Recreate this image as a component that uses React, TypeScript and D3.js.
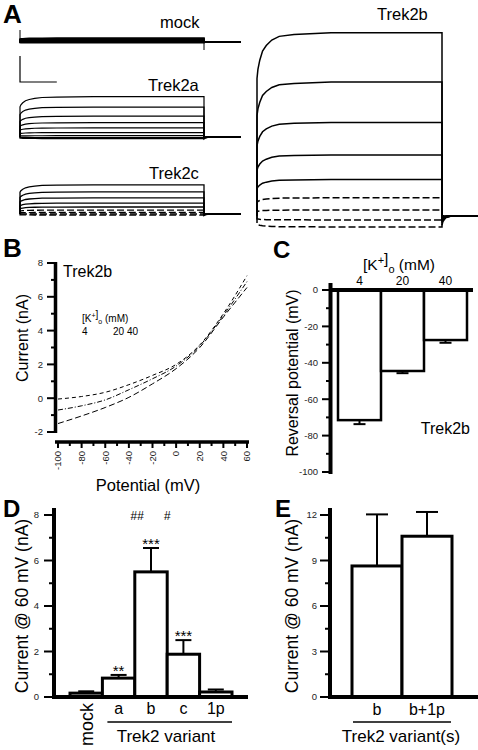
import React from "react";
import * as d3 from "d3";

// ---------- Panel A: voltage-step current traces (steady-state level, nA) ----------
const stepVoltages = [60, 40, 20, 0, -20, -40, -60, -80, -100];
const mockLevels = [0.15, 0.12, 0.09, 0.07, 0.05, 0.03, 0.01, -0.01, -0.03];
const trek2aLevels = [1.55, 1.15, 0.8, 0.55, 0.35, 0.17, 0.05, -0.02, -0.06];
const trek2cLevels = [1.12, 0.85, 0.62, 0.42, 0.27, 0.15, 0.06, 0.0, -0.04];
const trek2bLevels = [7.05, 5.15, 3.6, 2.35, 1.4, 0.7, 0.23, -0.15, -0.42];
// activation time course (ms -> fraction of steady state)
const actTimes = [0, 5, 15, 30, 50, 80, 120, 200, 400, 1000];
const actFrac = [0.75, 0.8, 0.85, 0.9, 0.93, 0.96, 0.98, 0.99, 1, 1];
const tailTimes = [1000, 1005, 1020, 1050, 1200];
const tailFrac = [-0.05, -0.03, -0.01, 0, 0];
const scaleBarNA = 1;
const scaleBarMs = 200;

// ---------- Panel B: I-V curves of Trek2b at three [K+]o ----------
const ivVoltages = [-100, -80, -60, -40, -20, 0, 20, 40, 60];
const iv4 = [-0.05, 0.1, 0.35, 0.8, 1.35, 2.0, 3.15, 5.0, 7.25];
const iv20 = [-0.7, -0.45, -0.1, 0.5, 1.15, 1.9, 3.1, 4.9, 6.9];
const iv40 = [-1.5, -1.05, -0.55, 0.05, 0.85, 1.75, 3.0, 4.8, 6.55];
const ivYTicks = [-2, 0, 2, 4, 6, 8];
const ivXTicks = [-100, -80, -60, -40, -20, 0, 20, 40, 60];

// ---------- Panel C: reversal potential ----------
const kConc = ["4", "20", "40"];
const revMean = [-71.5, -44.5, -27.5];
const revSem = [2.2, 1.2, 1.5];
const revTicks = [0, -20, -40, -60, -80, -100];

// ---------- Panel D: current at 60 mV per variant ----------
const variants = ["mock", "a", "b", "c", "1p"];
const curMean = [0.17, 0.83, 5.5, 1.88, 0.22];
const curSem = [0.08, 0.14, 1.05, 0.62, 0.11];
const curStars = ["", "**", "***", "***", ""];
const curTicks = [0, 2, 4, 6, 8];

// ---------- Panel E ----------
const combos = ["b", "b+1p"];
const comboMean = [8.64, 10.6];
const comboSem = [3.4, 1.6];
const comboTicks = [0, 3, 6, 9, 12];

const FONT = "Arial, 'Liberation Sans', Helvetica, sans-serif";

function tracePoints(level: number): [number, number][] {
  const pts: [number, number][] = [[0, 0]];
  actTimes.forEach((t, i) => pts.push([t, level * actFrac[i]]));
  tailTimes.forEach((t, i) => pts.push([t, level * tailFrac[i]]));
  return pts;
}

function Traces({ levels, x, zero, dashedFrom, width }: any) {
  const y = d3.scaleLinear().domain([0, 1]).range([zero, zero - 26]);
  const line = d3
    .line<[number, number]>()
    .x((d) => x(d[0]))
    .y((d) => y(d[1]));
  return (
    <g>
      {levels.map((lv: number, i: number) => (
        <path
          key={i}
          d={line(tracePoints(lv)) || ""}
          fill="none"
          stroke="#000"
          strokeWidth={width}
          strokeDasharray={i >= dashedFrom ? "7,3" : undefined}
        />
      ))}
    </g>
  );
}

export default function App() {
  const xL = d3.scaleLinear().domain([0, 1000]).range([20, 204]);
  const xR = d3.scaleLinear().domain([0, 1000]).range([257, 442]);
  const yBar = d3.scaleLinear().domain([0, 1]).range([82, 82 - 26]);

  // Panel B scales
  const xB = d3.scaleLinear().domain([-100, 60]).range([58, 247]);
  const yB = d3.scaleLinear().domain([-2, 8]).range([432, 263]);
  const ivLine = d3
    .line<number>()
    .x((_, i) => xB(ivVoltages[i]))
    .y((d) => yB(d))
    .curve(d3.curveMonotoneX);

  // Panel C
  const xC = d3.scaleBand<string>().domain(kConc).range([338, 467]).padding(0);
  const yC = d3.scaleLinear().domain([-100, 0]).range([472, 290]);

  // Panel D
  const xD = d3.scaleBand<string>().domain(variants).range([70, 232]).padding(0);
  const yD = d3.scaleLinear().domain([0, 8]).range([697, 515]);

  // Panel E
  const xE = d3.scaleBand<string>().domain(combos).range([352, 452]).padding(0);
  const yE = d3.scaleLinear().domain([0, 12]).range([697, 515]);

  const tickFont = { fontFamily: FONT, fontSize: 9.5, fill: "#222" };
  const labFont = { fontFamily: FONT, fill: "#000" };

  const minorB = d3.range(-2, 8.01, 1);
  const minorBx = d3.range(-100, 60.01, 10);
  const minorC = d3.range(-100, 0.01, 10);
  const minorD = d3.range(0, 8.01, 1);
  const minorE = d3.range(0, 12.01, 1.5);

  return (
    <svg
      width={478}
      height={750}
      style={{ position: "fixed", left: 0, top: 0, background: "#fff" }}
    >
      <rect width={478} height={750} fill="#fff" />
      {/* ---------------- Panel A ---------------- */}
      <text x={3} y={23} style={{ ...labFont, fontSize: 26, fontWeight: "bold" }}>A</text>
      <text x={160} y={28} style={{ ...labFont, fontSize: 16.5 }}>mock</text>
      <text x={148} y={91} style={{ ...labFont, fontSize: 16.5 }}>Trek2a</text>
      <text x={149} y={179} style={{ ...labFont, fontSize: 16.5 }}>Trek2c</text>
      <text x={377} y={20} style={{ ...labFont, fontSize: 16.5 }}>Trek2b</text>

      <Traces levels={mockLevels} x={xL} zero={42} dashedFrom={99} width={1.6} />
      <line x1={xL(0)} x2={xL(0)} y1={30} y2={42} stroke="#000" strokeWidth={1} />
      <line x1={xL(1000)} x2={xL(1000)} y1={40} y2={50} stroke="#000" strokeWidth={1} />
      <Traces levels={trek2aLevels} x={xL} zero={137} dashedFrom={99} width={1.2} />
      <Traces levels={trek2cLevels} x={xL} zero={214} dashedFrom={5} width={1.3} />
      <Traces levels={trek2bLevels} x={xR} zero={216} dashedFrom={5} width={1.5} />

      {/* scale bar */}
      <path
        d={`M${xL(0)},${yBar(scaleBarNA)}V${yBar(0)}H${xL(scaleBarMs)}`}
        fill="none"
        stroke="#000"
        strokeWidth={1.2}
      />

      {/* ---------------- Panel B ---------------- */}
      <text x={3} y={257} style={{ ...labFont, fontSize: 26, fontWeight: "bold" }}>B</text>
      <line x1={55.5} x2={55.5} y1={yB(8) - 1} y2={yB(-2) + 1} stroke="#000" strokeWidth={3.5} />
      {minorB.map((v) => (
        <line key={v} x1={v % 2 === 0 ? 47 : 51} x2={55} y1={yB(v)} y2={yB(v)} stroke="#000" strokeWidth={2} />
      ))}
      {ivYTicks.map((v) => (
        <text key={v} x={43} y={yB(v)} dy="0.35em" textAnchor="end" style={tickFont}>{v}</text>
      ))}
      <line x1={55} x2={249} y1={442} y2={442} stroke="#000" strokeWidth={3.5} />
      {minorBx.map((v) => (
        <line key={v} x1={xB(v)} x2={xB(v)} y1={442} y2={v % 20 === 0 ? 448 : 446} stroke="#000" strokeWidth={2} />
      ))}
      {ivXTicks.map((v) => (
        <text key={v} transform={`translate(${xB(v)},451) rotate(-90)`} dy="0.35em" textAnchor="end" style={tickFont}>{v}</text>
      ))}
      <text x={148} y={491} textAnchor="middle" style={{ ...labFont, fontSize: 16.5 }}>Potential (mV)</text>
      <text transform="translate(28,338) rotate(-90)" textAnchor="middle" style={{ ...labFont, fontSize: 16 }}>Current (nA)</text>
      <text x={63} y={277} style={{ ...labFont, fontSize: 16 }}>Trek2b</text>
      <text x={82} y={322} style={{ ...labFont, fontSize: 10 }}>
        [K<tspan dy={-4} fontSize={7}>+</tspan>]<tspan dy={6} fontSize={7}>o</tspan><tspan dy={-2}> (mM)</tspan>
      </text>
      <text x={82} y={335} style={{ ...labFont, fontSize: 10 }}>4</text>
      <text x={113} y={335} style={{ ...labFont, fontSize: 10 }}>20 40</text>
      <path d={ivLine(iv4) || ""} fill="none" stroke="#000" strokeWidth={1} strokeDasharray="4,3" />
      <path d={ivLine(iv20) || ""} fill="none" stroke="#000" strokeWidth={1} strokeDasharray="5,2,1,2" />
      <path d={ivLine(iv40) || ""} fill="none" stroke="#000" strokeWidth={1} strokeDasharray="6,3" />

      {/* ---------------- Panel C ---------------- */}
      <text x={273} y={258} style={{ ...labFont, fontSize: 24, fontWeight: "bold" }}>C</text>
      <text x={399} y={270} textAnchor="middle" style={{ ...labFont, fontSize: 15.5 }}>
        [K<tspan dy={-6} fontSize={11}>+</tspan>]<tspan dy={9} fontSize={11}>o</tspan><tspan dy={-3}> (mM)</tspan>
      </text>
      {kConc.map((k) => (
        <text key={k} x={(xC(k) as number) + xC.bandwidth() / 2} y={285} textAnchor="middle" style={{ ...labFont, fontSize: 12 }}>{k}</text>
      ))}
      {kConc.map((k, i) => {
        const x0 = xC(k) as number;
        const cx = x0 + xC.bandwidth() / 2;
        return (
          <g key={k}>
            <rect x={x0} y={yC(0)} width={xC.bandwidth()} height={yC(revMean[i]) - yC(0)} fill="#fff" stroke="#000" strokeWidth={2.5} />
            <line x1={cx} x2={cx} y1={yC(revMean[i])} y2={yC(revMean[i] - revSem[i])} stroke="#000" strokeWidth={2} />
            <line x1={cx - 6} x2={cx + 6} y1={yC(revMean[i] - revSem[i])} y2={yC(revMean[i] - revSem[i])} stroke="#000" strokeWidth={2} />
          </g>
        );
      })}
      <line x1={330.5} x2={330.5} y1={283} y2={474} stroke="#000" strokeWidth={4} />
      <line x1={330} x2={473} y1={290} y2={290} stroke="#000" strokeWidth={4} />
      {minorC.map((v) => (
        <line key={v} x1={v % 20 === 0 ? 322 : 326} x2={330} y1={yC(v)} y2={yC(v)} stroke="#000" strokeWidth={2} />
      ))}
      {revTicks.map((v) => (
        <text key={v} x={318} y={yC(v)} dy="0.35em" textAnchor="end" style={tickFont}>{v}</text>
      ))}
      <text transform="translate(298,373) rotate(-90)" textAnchor="middle" style={{ ...labFont, fontSize: 16 }}>Reversal potential (mV)</text>
      <text x={470} y={434} textAnchor="end" style={{ ...labFont, fontSize: 16 }}>Trek2b</text>

      {/* ---------------- Panel D ---------------- */}
      <text x={3} y={517} style={{ ...labFont, fontSize: 24, fontWeight: "bold" }}>D</text>
      {variants.map((v, i) => {
        const x0 = xD(v) as number;
        const cx = x0 + xD.bandwidth() / 2;
        const top = yD(curMean[i] + curSem[i]);
        return (
          <g key={v}>
            <line x1={cx} x2={cx} y1={yD(curMean[i])} y2={top} stroke="#000" strokeWidth={2} />
            <line x1={cx - 8} x2={cx + 8} y1={top} y2={top} stroke="#000" strokeWidth={2} />
            <rect x={x0} y={yD(curMean[i])} width={xD.bandwidth()} height={yD(0) - yD(curMean[i])} fill="#fff" stroke="#000" strokeWidth={3} />
            {curStars[i] && (
              <text x={cx} y={top + 1} textAnchor="middle" style={{ ...labFont, fontSize: 15 }}>{curStars[i]}</text>
            )}
          </g>
        );
      })}
      <line x1={54} x2={54} y1={508} y2={699} stroke="#000" strokeWidth={4} />
      <line x1={52} x2={248} y1={697} y2={697} stroke="#000" strokeWidth={4} />
      {minorD.map((v) => (
        <line key={v} x1={v % 2 === 0 ? 44 : 49} x2={54} y1={yD(v)} y2={yD(v)} stroke="#000" strokeWidth={2} />
      ))}
      {curTicks.map((v) => (
        <text key={v} x={39} y={yD(v)} dy="0.35em" textAnchor="end" style={tickFont}>{v}</text>
      ))}
      <text x={137} y={520} textAnchor="middle" style={{ ...labFont, fontSize: 12, fontStyle: "italic" }}>##</text>
      <text x={167} y={520} textAnchor="middle" style={{ ...labFont, fontSize: 12, fontStyle: "italic" }}>#</text>
      {variants.map((v) =>
        v === "mock" ? (
          <text key={v} transform={`translate(${(xD(v) as number) + xD.bandwidth() / 2 + 7},703) rotate(-90)`} textAnchor="end" style={{ ...labFont, fontSize: 18 }}>{v}</text>
        ) : (
          <text key={v} x={(xD(v) as number) + xD.bandwidth() / 2} y={714} textAnchor="middle" style={{ ...labFont, fontSize: 16 }}>{v}</text>
        )
      )}
      <line x1={xD("a") as number + 5} x2={232} y1={722} y2={722} stroke="#000" strokeWidth={1.5} />
      <text x={166} y={742} textAnchor="middle" style={{ ...labFont, fontSize: 17 }}>Trek2 variant</text>
      <text transform="translate(28,606) rotate(-90)" textAnchor="middle" style={{ ...labFont, fontSize: 17.5 }}>Current @ 60 mV (nA)</text>

      {/* ---------------- Panel E ---------------- */}
      <text x={275} y={517} style={{ ...labFont, fontSize: 24, fontWeight: "bold" }}>E</text>
      {combos.map((v, i) => {
        const x0 = xE(v) as number;
        const cx = x0 + xE.bandwidth() / 2;
        const top = yE(comboMean[i] + comboSem[i]);
        return (
          <g key={v}>
            <line x1={cx} x2={cx} y1={yE(comboMean[i])} y2={top} stroke="#000" strokeWidth={2} />
            <line x1={cx - 11} x2={cx + 11} y1={top} y2={top} stroke="#000" strokeWidth={2} />
            <rect x={x0} y={yE(comboMean[i])} width={xE.bandwidth()} height={yE(0) - yE(comboMean[i])} fill="#fff" stroke="#000" strokeWidth={3} />
          </g>
        );
      })}
      <line x1={330} x2={330} y1={508} y2={699} stroke="#000" strokeWidth={4} />
      <line x1={328} x2={478} y1={697} y2={697} stroke="#000" strokeWidth={4} />
      {minorE.map((v) => (
        <line key={v} x1={v % 3 === 0 ? 320 : 325} x2={330} y1={yE(v)} y2={yE(v)} stroke="#000" strokeWidth={2} />
      ))}
      {comboTicks.map((v) => (
        <text key={v} x={317} y={yE(v)} dy="0.35em" textAnchor="end" style={tickFont}>{v}</text>
      ))}
      {combos.map((v) => (
        <text key={v} x={(xE(v) as number) + xE.bandwidth() / 2} y={715} textAnchor="middle" style={{ ...labFont, fontSize: 16 }}>{v}</text>
      ))}
      <line x1={353} x2={451} y1={722} y2={722} stroke="#000" strokeWidth={1.5} />
      <text x={401} y={742} textAnchor="middle" style={{ ...labFont, fontSize: 17 }}>Trek2 variant(s)</text>
      <text transform="translate(298,606) rotate(-90)" textAnchor="middle" style={{ ...labFont, fontSize: 17.5 }}>Current @ 60 mV (nA)</text>
    </svg>
  );
}
